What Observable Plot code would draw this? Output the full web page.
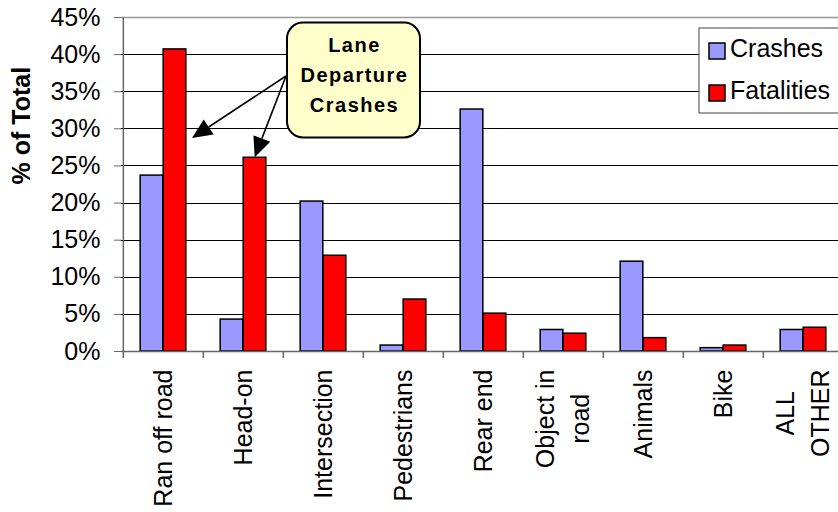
<!DOCTYPE html>
<html><head><meta charset="utf-8">
<script src="https://cdn.jsdelivr.net/npm/d3@7"></script>
<script src="https://cdn.jsdelivr.net/npm/@observablehq/plot@0.6"></script>
<style>
html,body{margin:0;padding:0;background:#fff;overflow:hidden;width:838px;height:512px}
#chart svg{display:block;max-width:none !important}
</style>
</head><body><div id="chart"></div>
<script>
// ---- data ----
const categories = ["Ran off road","Head-on","Intersection","Pedestrians","Rear end","Object in\nroad","Animals","Bike","ALL\nOTHER"];
const crashes    = [23.7, 4.3, 20.2, 0.8, 32.6, 2.9, 12.1, 0.45, 2.9];
const fatalities = [40.7, 26.1, 12.9, 7.0, 5.1, 2.4, 1.8, 0.8, 3.2];
const yTicks = [0,5,10,15,20,25,30,35,40,45];
const seriesNames = ["Crashes","Fatalities"];
const seriesColors = ["#9999ff","#ff0000"];
const calloutLines = ["Lane","Departure","Crashes"];
const yTitle = "% of Total";

// ---- layout ----
const FONT = "'Liberation Sans', Arial, Helvetica, sans-serif";
const W = 844, H = 512, ML = 121, MT = 17, MB = 161;
const step = (W - ML) / categories.length;
const barW = 23;
const outer = (step - 2 * barW) / 2;
const pxPerUnit = (H - MB - MT) / 45;

const crashData = categories.map((c, i) => ({category: c, value: crashes[i]}));
const fatalData = categories.map((c, i) => ({category: c, value: fatalities[i]}));

// measure label text
const ctx = document.createElement("canvas").getContext("2d");
ctx.font = "25px " + FONT;
const lineH = 35, labelTop = 18;
const labelMarks = [];
categories.forEach(c => {
  const lines = c.split("\n");
  const maxLen = Math.max(...lines.map(l => ctx.measureText(l).width));
  lines.forEach((line, j) => {
    labelMarks.push(Plot.text([c], {
      x: d => d, y: () => 0, text: () => line,
      rotate: -90, textAnchor: "middle", fontSize: 25, fill: "#000",
      dy: labelTop + maxLen / 2,
      dx: (j - (lines.length - 1) / 2) * lineH
    }));
  });
});

function annotations(index, scales) {
  const g = d3.create("svg:g").attr("text-anchor", "start");
  const x = scales.x, y = scales.y;
  // callout
  const cx = 287, cy = 22.5, cw = 133, ch = 115;
  g.append("rect").attr("x", cx).attr("y", cy).attr("width", cw).attr("height", ch)
    .attr("rx", 16).attr("fill", "#ffffcc").attr("stroke", "#000").attr("stroke-width", 2);
  calloutLines.forEach((t, i) => {
    g.append("text").attr("x", cx + cw / 2 + 1).attr("y", 51.5 + i * 30)
      .attr("text-anchor", "middle").attr("font-family", FONT).attr("font-weight", "bold")
      .attr("font-size", 20).attr("letter-spacing", "1.5px").attr("fill", "#000").text(t);
  });
  // arrows
  const start = [286, 76];
  const tips = [
    [x(categories[0]) + 69, y(28.7)],
    [x(categories[1]) + step / 2 + barW / 2, y(fatalities[1])]
  ];
  tips.forEach(([tx, ty]) => {
    const dxv = tx - start[0], dyv = ty - start[1];
    const len = Math.hypot(dxv, dyv), ux = dxv / len, uy = dyv / len;
    const hl = 20, hw = 9;
    const bx = tx - ux * hl, by = ty - uy * hl;
    g.append("line").attr("x1", start[0]).attr("y1", start[1]).attr("x2", bx).attr("y2", by)
      .attr("stroke", "#000").attr("stroke-width", 1.6);
    g.append("path").attr("d",
      `M${tx},${ty}L${bx - uy * hw},${by + ux * hw}L${bx + uy * hw},${by - ux * hw}Z`)
      .attr("fill", "#000");
  });
  // legend
  g.append("rect").attr("x", 699).attr("y", 28).attr("width", 160).attr("height", 85)
    .attr("fill", "#fff").attr("stroke", "#444").attr("stroke-width", 1);
  seriesNames.forEach((s, i) => {
    g.append("rect").attr("x", 709).attr("y", 43 + i * 42).attr("width", 16).attr("height", 16)
      .attr("fill", seriesColors[i]).attr("stroke", "#000").attr("stroke-width", 1.5);
    g.append("text").attr("x", 730).attr("y", 57 + i * 42).attr("font-family", FONT)
      .attr("text-anchor", "start")
      .attr("font-size", 25).attr("fill", "#000").text(s);
  });
  return g.node();
}

const chart = Plot.plot({
  width: W, height: H,
  marginLeft: ML, marginRight: 0, marginTop: MT, marginBottom: MB,
  style: {fontFamily: FONT, background: "#fff", color: "#000", maxWidth: "none"},
  x: {type: "band", domain: categories, padding: 0, axis: null},
  y: {domain: [0, 45], axis: null},
  marks: [
    Plot.ruleY(yTicks.filter(d => d > 0 && d < 45), {stroke: "#000", strokeWidth: 1, shapeRendering: "crispEdges"}),
    Plot.ruleY([45], {stroke: "#999", strokeWidth: 1.5}),
    Plot.barY(crashData, {x: "category", y: "value", fill: seriesColors[0], stroke: "#000",
      strokeWidth: 1.5, insetLeft: outer, insetRight: outer + barW}),
    Plot.barY(fatalData, {x: "category", y: "value", fill: seriesColors[1], stroke: "#000",
      strokeWidth: 1.5, insetLeft: outer + barW, insetRight: outer}),
    Plot.ruleY([0], {stroke: "#666", strokeWidth: 1.5}),
    Plot.ruleX([categories[0]], {x: d => d, dx: -step / 2, y1: 0, y2: 45, stroke: "#666", strokeWidth: 1.5}),
    Plot.ruleX(categories, {x: d => d, dx: -step / 2, y1: 0, y2: -7 / pxPerUnit, stroke: "#666", strokeWidth: 1.5}),
    Plot.axisY({ticks: yTicks, tickFormat: d => d + "%", tickSize: 7, tickPadding: 14,
      fontSize: 25, stroke: "#666", fill: "#000", label: null}),
    Plot.text([yTitle], {frameAnchor: "left", dx: -100, rotate: -90, fontSize: 25,
      fontWeight: "bold", fill: "#000"}),
    ...labelMarks,
    annotations
  ]
});
document.getElementById("chart").appendChild(chart);
</script>
</body></html>
